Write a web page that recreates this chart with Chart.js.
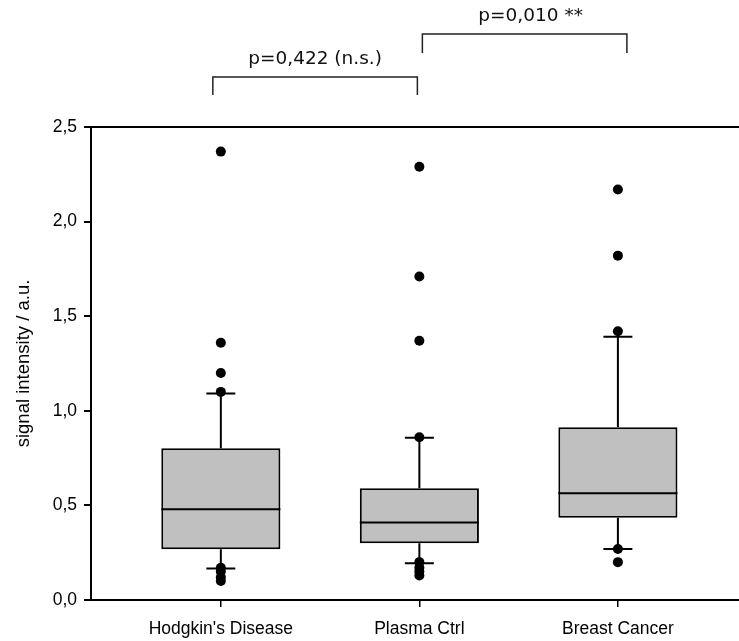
<!DOCTYPE html>
<html>
<head>
<meta charset="utf-8">
<script src="https://cdn.jsdelivr.net/npm/chart.js@4"></script>
<style>
  html, body { margin: 0; padding: 0; background: #fff; overflow: hidden; }
  #wrap { width: 739px; height: 641px; }
</style>
</head>
<body>
<div id="wrap"><canvas id="chart"></canvas></div>
<script>
// box plot summary per group
const categories = ["Hodgkin's Disease", 'Plasma Ctrl', 'Breast Cancer'];
const whiskerLow = [0.167, 0.194, 0.270];
const q1 = [0.268, 0.300, 0.435];
const median = [0.479, 0.409, 0.564];
const q3 = [0.802, 0.590, 0.913];
const whiskerHigh = [1.092, 0.858, 1.392];

const outliersHodgkin = [2.37, 1.36, 1.20, 1.10, 0.17, 0.15, 0.12, 0.10];
const outliersPlasma = [2.29, 1.71, 1.37, 0.86, 0.20, 0.17, 0.15, 0.13];
const outliersBreast = [2.17, 1.82, 1.42, 0.27, 0.20];

const yTicks = [0, 0.5, 1.0, 1.5, 2.0, 2.5];

const comparisons = [
    { from: 1, to: 2, label: 'p=0,422 (n.s.)' },
    { from: 2, to: 3, label: 'p=0,010 **' }
];

const BOX_HALF = 0.3;   // half box width, x units
const CAP_HALF = 0.073; // half whisker cap width

const allOutliers = [outliersHodgkin, outliersPlasma, outliersBreast];
const outlierPoints = [];
allOutliers.forEach((list, i) => list.forEach(v => outlierPoints.push({ x: i + 1, y: v })));

const boxData = categories.map((c, i) => ({ x: i + 1, y: [q1[i], q3[i]] }));

// whiskers, caps and medians as one broken line
const linePoints = [];
categories.forEach((c, i) => {
    const x = i + 1;
    const segs = [
        [[x, whiskerLow[i]], [x, q1[i]]],
        [[x, q3[i]], [x, whiskerHigh[i]]],
        [[x - CAP_HALF, whiskerLow[i]], [x + CAP_HALF, whiskerLow[i]]],
        [[x - CAP_HALF, whiskerHigh[i]], [x + CAP_HALF, whiskerHigh[i]]],
        [[x - BOX_HALF, median[i]], [x + BOX_HALF, median[i]]]
    ];
    segs.forEach(s => {
        s.forEach(p => linePoints.push({ x: p[0], y: p[1] }));
        linePoints.push({ x: s[1][0], y: null });
    });
});

// significance brackets above the plot
const bracketPlugin = {
    id: 'brackets',
    afterDraw(chart) {
        const xs = chart.scales.x;
        const ctx = chart.ctx;
        const style = [
            { top: 77, leg: 18, textY: 59, dx: [-8, -2], tdx: 0 },
            { top: 34, leg: 19, textY: 16, dx: [3, 9], tdx: 6 }
        ];
        comparisons.forEach((c, i) => {
            const s = style[i];
            const x1 = xs.getPixelForValue(c.from) + s.dx[0];
            const x2 = xs.getPixelForValue(c.to) + s.dx[1];
            ctx.save();
            ctx.strokeStyle = '#222';
            ctx.lineWidth = 1.5;
            ctx.beginPath();
            ctx.moveTo(x1, s.top + s.leg);
            ctx.lineTo(x1, s.top);
            ctx.lineTo(x2, s.top);
            ctx.lineTo(x2, s.top + s.leg);
            ctx.stroke();
            ctx.font = '18.5px "DejaVu Sans"';
            ctx.fillStyle = '#111';
            ctx.textAlign = 'center';
            ctx.textBaseline = 'middle';
            ctx.fillText(c.label, (x1 + x2) / 2 + s.tdx, s.textY);
            ctx.restore();
        });
    }
};

const tickFont = { family: '"Liberation Sans", Arial, sans-serif', size: 17.5 };

new Chart(document.getElementById('chart'), {
    type: 'scatter',
    data: {
        datasets: [
            {
                type: 'bar',
                data: boxData,
                backgroundColor: '#c0c0c0',
                borderColor: '#000',
                borderWidth: 2,
                borderSkipped: false,
                barPercentage: 1,
                categoryPercentage: 0.6,
                order: 3
            },
            {
                type: 'line',
                data: linePoints,
                borderColor: '#000',
                borderWidth: 2,
                pointRadius: 0,
                spanGaps: false,
                fill: false,
                order: 2
            },
            {
                type: 'scatter',
                data: outlierPoints,
                backgroundColor: '#000',
                borderWidth: 0,
                pointRadius: 5,
                order: 1
            }
        ]
    },
    options: {
        responsive: true,
        maintainAspectRatio: false,
        animation: false,
        layout: { autoPadding: false, padding: { top: 127, left: 0, right: 0, bottom: 0 } },
        plugins: { legend: { display: false }, tooltip: { enabled: false } },
        scales: {
            x: {
                type: 'linear',
                offset: false,
                bounds: 'data',
                min: 0.346,
                max: 3.61,
                afterBuildTicks: axis => { axis.ticks = categories.map((c, i) => ({ value: i + 1 })); },
                afterFit: axis => { axis.height = 41; },
                ticks: {
                    callback: v => categories[v - 1],
                    font: tickFont,
                    color: '#000',
                    padding: 12,
                    maxRotation: 0
                },
                grid: { offset: false, drawOnChartArea: false, drawTicks: true, tickLength: 7, tickColor: '#000', lineWidth: 1.5 },
                border: { color: '#000', width: 2 }
            },
            y: {
                min: 0,
                max: 2.5,
                afterBuildTicks: axis => { axis.ticks = yTicks.map(v => ({ value: v })); },
                afterFit: axis => { axis.width = 91; },
                ticks: {
                    callback: v => v.toFixed(1).replace('.', ','),
                    font: tickFont,
                    color: '#000',
                    padding: 7
                },
                grid: {
                    color: c => (c.tick && c.tick.value === 2.5 ? '#000' : 'rgba(0,0,0,0)'),
                    tickColor: '#000',
                    tickLength: 7,
                    lineWidth: 2
                },
                border: { color: '#000', width: 2 },
                title: {
                    display: true,
                    text: 'signal intensity / a.u.',
                    font: { family: '"Liberation Sans", Arial, sans-serif', size: 18.5 },
                    color: '#000',
                    padding: { top: 13, bottom: 0 }
                }
            }
        }
    },
    plugins: [bracketPlugin]
});
</script>
</body>
</html>
